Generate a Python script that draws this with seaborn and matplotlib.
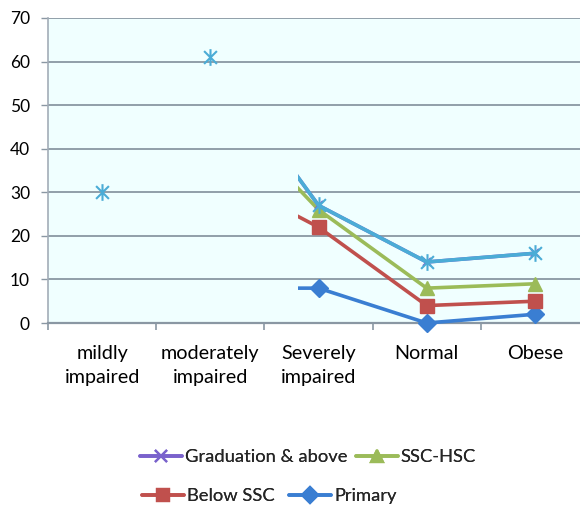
import numpy as np
import pandas as pd
import matplotlib
matplotlib.use("Agg")
import matplotlib.pyplot as plt
import seaborn as sns
from matplotlib.path import Path
from matplotlib.patches import Rectangle
from matplotlib.lines import Line2D

# ---- data -------------------------------------------------------------
categories = ["mildly\nimpaired", "moderately\nimpaired", "Severely\nimpaired",
              "Normal", "Obese"]
graduation = [30, 61, 27, 14, 16]
ssc_hsc = [np.nan, 52, 26, 8, 9]
below_ssc = [np.nan, 35, 22, 4, 5]
primary = [np.nan, 8, 8, 0, 2]
y_ticks = [0, 10, 20, 30, 40, 50, 60, 70]

# ---- style ------------------------------------------------------------
sns.set_theme(style="white")
plt.rcParams["font.family"] = ["Lato", "DejaVu Sans"]
FS_Y = 12.5
FS_X = 14.2
FS_LEG = 13.2
GRID = "#8A97A3"

# asterisk marker: an "x" with a vertical bar through it
star = Path([(-1, -1), (1, 1), (-1, 1), (1, -1), (0, -1.3), (0, 1.3)],
            [Path.MOVETO, Path.LINETO, Path.MOVETO, Path.LINETO,
             Path.MOVETO, Path.LINETO])

fig = plt.figure(figsize=(5.8, 5.08), dpi=100)
ax = fig.add_axes([48 / 580, 1 - 323 / 508, (589 - 48) / 580, 305 / 508])
ax.set_facecolor("#F0FFFF")

# (name, values, colour, marker, marker size, first marked point, zorder)
series = [
    ("Primary", primary, "#3A7ED2", "D", 9, 2, 3),
    ("Below SSC", below_ssc, "#C0504D", "s", 10, 2, 4),
    ("SSC-HSC", ssc_hsc, "#9BBB59", "^", 10, 2, 5),
    ("Graduation & above", graduation, "#7A62CC", "x", 6, 2, 6),
    (None, graduation, "#4BACD6", star, 12, 0, 7),
]

xs = np.arange(len(categories))
# connecting lines are only drawn from just left of "Severely impaired"
for name, vals, col, mk, ms, first, z in series:
    df = pd.DataFrame({"x": xs, "y": vals}).dropna()
    sns.lineplot(data=df, x="x", y="y", ax=ax, color=col, linewidth=2.6,
                 zorder=z, sort=False)
    line = ax.lines[-1]
    clip = Rectangle((1.815, -10), 10, 100, transform=ax.transData)
    line.set_clip_path(clip)
    mx = xs[first:]
    my = np.asarray(vals, dtype=float)[first:]
    ax.plot(mx, my, linestyle="none", marker=mk, markersize=ms,
            color=col, markeredgecolor=col,
            markeredgewidth=1.5 if (mk == "x" or mk is star) else 1,
            zorder=z + 0.5, clip_on=False)

ax.set_xlabel("")
ax.set_ylabel("")
ax.set_xlim(-0.5, 4.5)
ax.set_ylim(0, 70)

ax.set_yticks(y_ticks)
ax.yaxis.grid(True, color=GRID, linewidth=1.3)
ax.set_axisbelow(True)
ax.tick_params(axis="y", length=5, width=1, color=GRID, direction="out",
               pad=8, labelsize=FS_Y, labelcolor="black", left=True)

ax.set_xticks(xs)
ax.set_xticklabels(categories, fontsize=FS_X, linespacing=1.5)
ax.set_xticks(np.arange(-0.5, 5, 1), minor=True)
ax.tick_params(axis="x", which="major", length=0, pad=16, labelcolor="black")
ax.tick_params(axis="x", which="minor", length=5, width=1.2, color=GRID,
               direction="out", bottom=True)

for s in ("top", "right"):
    ax.spines[s].set_visible(False)
ax.spines["left"].set_color("#A3ADB8")
ax.spines["left"].set_linewidth(1.2)
ax.spines["bottom"].set_color(GRID)
ax.spines["bottom"].set_linewidth(1.6)

# legend entries placed in two rows beneath the plot
entries = [
    ("Graduation & above", "#7A62CC", "x", 8, 140, 457),
    ("SSC-HSC", "#9BBB59", "^", 9, 356, 457),
    ("Below SSC", "#C0504D", "s", 9, 142, 496),
    ("Primary", "#3A7ED2", "D", 8, 289, 496),
]
for label, col, mk, ms, px, py in entries:
    h = Line2D([], [], color=col, linewidth=2.6, marker=mk, markersize=ms,
               markeredgecolor=col, markeredgewidth=1.6)
    leg = fig.legend([h], [label], loc="center left",
                     bbox_to_anchor=(px / 580, 1 - py / 508),
                     frameon=False, fontsize=FS_LEG, handlelength=2.3,
                     handletextpad=0.15, borderpad=0, borderaxespad=0)
    fig.add_artist(leg)

fig.savefig("out.png", dpi=100, facecolor="white")
